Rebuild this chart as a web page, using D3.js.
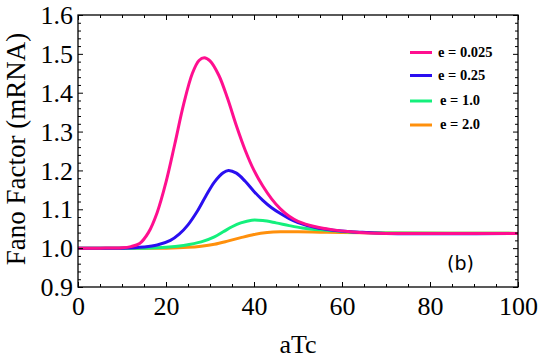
<!DOCTYPE html>
<html><head><meta charset="utf-8">
<script src="https://cdn.jsdelivr.net/npm/d3@7"></script>
<style>body{margin:0;background:#fff}svg{display:block}</style>
</head><body><svg id="c" width="540" height="362"></svg>
<script>
const seriesNames = ["e = 0.025", "e = 0.25", "e = 1.0", "e = 2.0"];
const seriesColors = ["#ff0f8f", "#2a0ff0", "#14f07c", "#ff900c"];
const pink = [[0,1.0],[5,1.0],[10,1.001],[12,1.004],[14,1.012],[16,1.040],[18,1.092],[20,1.170],[22,1.268],[24,1.370],[26,1.450],[27.5,1.483],[28.7,1.49],[30,1.482],[32,1.445],[34,1.385],[36,1.315],[38,1.252],[40,1.200],[42,1.160],[44,1.127],[46,1.101],[48,1.082],[50,1.069],[54,1.055],[58,1.047],[62,1.042],[66,1.039],[70,1.038],[80,1.038],[100,1.038]];
const blue = [[0,1.0],[10,1.0],[15,1.003],[18,1.008],[21,1.020],[23,1.036],[25,1.060],[27,1.093],[29,1.133],[31,1.170],[33,1.194],[34.2,1.2],[36,1.193],[38,1.172],[40,1.146],[42,1.123],[44,1.104],[46,1.089],[48,1.076],[50,1.066],[54,1.053],[58,1.046],[62,1.042],[66,1.040],[70,1.038],[100,1.038]];
const green = [[0,1.0],[15,1.0],[20,1.002],[24,1.007],[28,1.016],[31,1.029],[33,1.042],[35,1.055],[37,1.065],[39.5,1.072],[42,1.071],[45,1.065],[48,1.058],[51,1.052],[55,1.047],[60,1.043],[65,1.040],[70,1.039],[100,1.038]];
const orange = [[0,1.0],[20,1.0],[25,1.002],[28,1.005],[31,1.010],[34,1.018],[37,1.027],[40,1.035],[43,1.040],[46,1.042],[50,1.042],[55,1.041],[60,1.040],[70,1.039],[100,1.038]];
const xTicks = [0,20,40,60,80,100];
const yTicks = [0.9,1.0,1.1,1.2,1.3,1.4,1.5,1.6];
const series = [pink, blue, green, orange];

const svg = d3.select("#c");
const L=78, R=518, T=15, B=287;
const x = d3.scaleLinear().domain([0,100]).range([L,R]);
const y = d3.scaleLinear().domain([0.9,1.6]).range([B,T]);
const serif = "'Liberation Serif','Times New Roman',serif";

svg.append("clipPath").attr("id","cp").append("rect").attr("x",L).attr("y",T).attr("width",R-L).attr("height",B-T);
const line = d3.line().x(d=>x(d[0])).y(d=>y(d[1])).curve(d3.curveCatmullRom.alpha(0.5));
[3,2,1,0].forEach(i=>{
  svg.append("path").attr("d",line(series[i])).attr("fill","none")
    .attr("stroke",seriesColors[i]).attr("stroke-width",3).attr("stroke-linejoin","round")
    .attr("clip-path","url(#cp)");
});

function tickAxis(axisGen, tr){
  const g = svg.append("g").attr("transform",tr).call(axisGen);
  g.select(".domain").remove();
  g.selectAll("line").attr("stroke","#000").attr("stroke-width",1);
  return g;
}
const xMinor = d3.range(0,101,5).filter(v=>v%20!==0);
const yMinor = d3.range(0,36).map(i=>+(0.9+i*0.02).toFixed(2)).filter(v=>Math.abs(v*10-Math.round(v*10))>1e-6);

const gb = tickAxis(d3.axisBottom(x).tickValues(xTicks).tickSize(-5).tickFormat(d3.format("d")), `translate(0,${B})`);
gb.selectAll("text").attr("font-family",serif).attr("font-size",26).attr("fill","#000").attr("dy",null).attr("y",28);
tickAxis(d3.axisBottom(x).tickValues(xMinor).tickSize(-3).tickFormat(""), `translate(0,${B})`);
tickAxis(d3.axisTop(x).tickValues(xTicks).tickSize(-5).tickFormat(""), `translate(0,${T})`);
tickAxis(d3.axisTop(x).tickValues(xMinor).tickSize(-3).tickFormat(""), `translate(0,${T})`);
const gl = tickAxis(d3.axisLeft(y).tickValues(yTicks).tickSize(-5).tickFormat(d3.format(".1f")), `translate(${L},0)`);
gl.selectAll("text").attr("font-family",serif).attr("font-size",26).attr("fill","#000").attr("x",-5).attr("dy","0.33em");
tickAxis(d3.axisLeft(y).tickValues(yMinor).tickSize(-3).tickFormat(""), `translate(${L},0)`);
tickAxis(d3.axisRight(y).tickValues(yTicks).tickSize(-5).tickFormat(""), `translate(${R},0)`);
tickAxis(d3.axisRight(y).tickValues(yMinor).tickSize(-3).tickFormat(""), `translate(${R},0)`);

svg.append("rect").attr("x",L).attr("y",T).attr("width",R-L).attr("height",B-T)
  .attr("fill","none").attr("stroke","#000").attr("stroke-width",1.3);

svg.append("text").attr("x",(L+R)/2).attr("y",353).attr("text-anchor","middle")
  .attr("font-family",serif).attr("font-size",26).text("aTc");
svg.append("text").attr("transform",`translate(25,149) rotate(-90)`).attr("text-anchor","middle")
  .attr("font-family",serif).attr("font-size",27).text("Fano Factor (mRNA)");

const legY = [52.5, 75.5, 101, 125];
seriesNames.forEach((n,i)=>{
  svg.append("line").attr("x1",410).attr("x2",432).attr("y1",legY[i]).attr("y2",legY[i])
    .attr("stroke",seriesColors[i]).attr("stroke-width",3);
  svg.append("text").attr("x",i<2?438:440).attr("y",legY[i]+4).attr("font-family",serif)
    .attr("font-weight","bold").attr("font-size",14.5).text(n);
});

svg.append("text").attr("x",447).attr("y",270).attr("font-family","'DejaVu Sans',sans-serif")
  .attr("font-size",19).text("(b)");
</script></body></html>
